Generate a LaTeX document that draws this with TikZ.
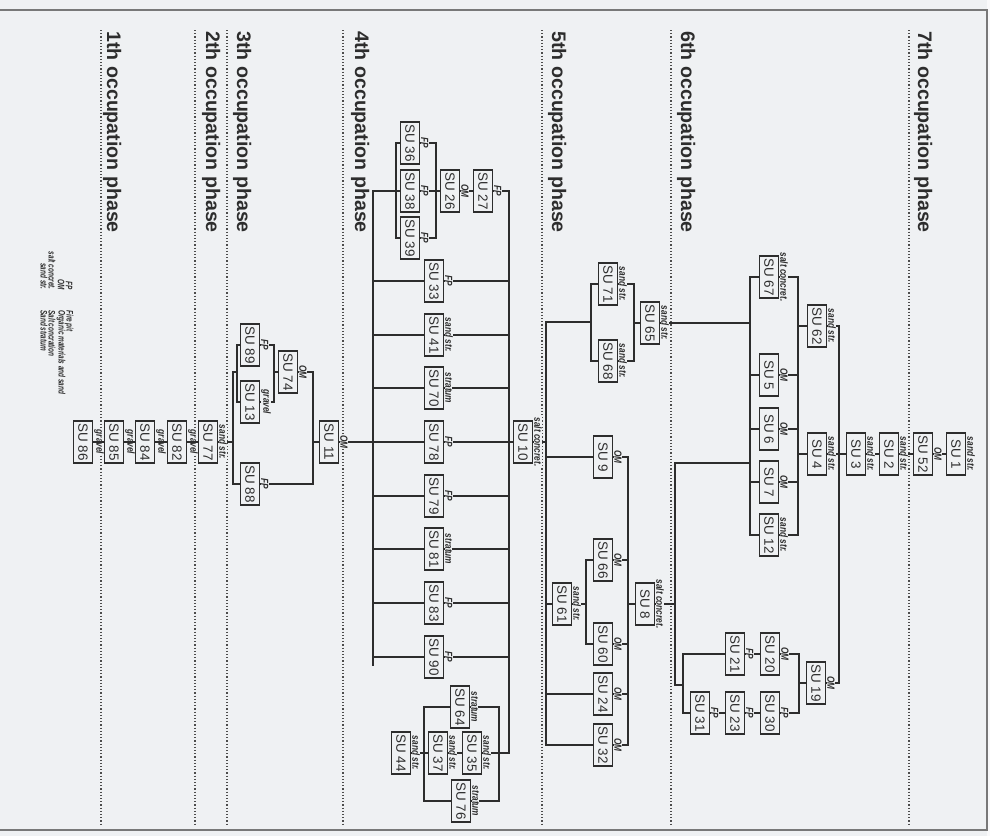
\documentclass[tikz,border=0pt]{standalone}
\usepackage{fontspec}
\setmainfont{Liberation Sans}
\newfontfamily\narrowfont[FakeStretch=0.8]{Liberation Sans}
\newfontfamily\legfont[FakeStretch=0.68]{Liberation Sans}
\definecolor{ink}{RGB}{45,45,45}
\definecolor{bgc}{RGB}{239,241,243}
\definecolor{framec}{RGB}{120,120,120}
\pgfdeclarelayer{back}
\pgfsetlayers{back,main}
\begin{document}
\begin{tikzpicture}[x=0.5pt,y=-0.5pt,
 box/.style={draw=ink,line width=0.9pt,fill=bgc,text=ink,rotate=-90,minimum width=21pt,minimum height=9.5pt,inner sep=0pt,font=\fontsize{6.7}{7}\selectfont},
 lab/.style={rotate=-90,anchor=south,inner sep=0.2pt,fill=bgc,text=ink,font=\narrowfont\bfseries\itshape\fontsize{5.2}{5.5}\selectfont},
 con/.style={draw=ink,line width=0.7pt},
 ttl/.style={rotate=-90,anchor=base west,inner sep=0pt,text=ink,font=\bfseries\fontsize{9.8}{11}\selectfont},
 sepline/.style={draw=ink!85,line width=0.6pt,densely dotted},
 leg/.style={rotate=-90,inner sep=0pt,text=ink,font=\legfont\bfseries\itshape\fontsize{4.7}{5}\selectfont}]
\useasboundingbox (0,0) rectangle (990,836);
\begin{pgfonlayer}{back}
\fill[bgc] (0,0) rectangle (990,836);
\fill[white!60!bgc] (987,0) rectangle (990,836);
\draw[framec,line width=0.8pt] (0,10) -- (987,10) -- (987,830) -- (0,830);
\foreach \xx in {101,195,227,343,542,671,909} \draw[sepline] (\xx,30) -- (\xx,824);
\end{pgfonlayer}

% phase titles
\node[ttl] (t7) at (918,31) {7th occupation phase};
\node[ttl] (t6) at (681,31) {6th occupation phase};
\node[ttl] (t5) at (552,31) {5th occupation phase};
\node[ttl] (t4) at (355,31) {4th occupation phase};
\node[ttl] (t3) at (237,31) {3th occupation phase};
\node[ttl] (t2) at (206,31) {2th occupation phase};
\node[ttl] (t1) at (107,31) {1th occupation phase};

% legend
\node[leg,anchor=east] (lg1) at (69,290) {FP};
\node[leg,anchor=west] (lg1t) at (69,310) {Fire pit};
\node[leg,anchor=east] (lg2) at (61,290) {OM};
\node[leg,anchor=west] (lg2t) at (61,310) {Organic materials and sand};
\node[leg,anchor=east] (lg3) at (52,290) {salt concret.};
\node[leg,anchor=west] (lg3t) at (52,310) {Salt concration};
\node[leg,anchor=east] (lg4) at (44,290) {sand str.};
\node[leg,anchor=west] (lg4t) at (44,310) {Sand stratum};

% boxes
\foreach \n/\p/\t in {su1/{956,454}/1, su52/{923,454}/52, su2/{889,454}/2, su3/{856,454}/3,
 su4/{817,454}/4, su62/{817,326}/62, su67/{769,277}/67, su5/{769,375}/5, su6/{769,429}/6,
 su7/{769,482}/7, su12/{769,535}/12, su19/{816,683}/19, su20/{770,654}/20, su30/{770,713}/30,
 su21/{735,654}/21, su23/{735,713}/23, su31/{700,713}/31,
 su65/{650,323}/65, su71/{608,284}/71, su68/{608,361}/68, su9/{603,457}/9, su8/{645,604}/8,
 su66/{603,560}/66, su60/{603,644}/60, su61/{562,604}/61, su24/{603,694}/24, su32/{603,745}/32,
 su10/{523,442}/10,
 su27/{483,191}/27, su26/{450,191}/26, su36/{410,143}/36, su38/{410,191}/38, su39/{410,238}/39,
 su33/{434,281}/33, su41/{434,335}/41, su70/{434,388}/70, su78/{434,442}/78, su79/{434,496}/79,
 su81/{434,549}/81, su83/{434,603}/83, su90/{434,657}/90, su64/{460,707}/64, su35/{472,753}/35,
 su76/{461,801}/76, su37/{438,753}/37, su44/{401,753}/44,
 su11/{329,442}/11, su74/{288,372}/74, su89/{250,345}/89, su13/{250,402}/13, su88/{250,484}/88,
 su77/{208,442}/77, su82/{177,442}/82, su84/{145,442}/84, su85/{114,442}/85, su86/{83,442}/86}
 \node[box] (\n) at (\p) {SU \t};

% bus coordinates
\coordinate (vA) at (839,0);
\coordinate (vB) at (798,0);
\coordinate (vC) at (750,0);
\coordinate (vD) at (799,0);
\coordinate (vE) at (683,0);
\coordinate (vF) at (675,0);
\coordinate (vG) at (634,0);
\coordinate (vH) at (591,0);
\coordinate (vI) at (546,0);
\coordinate (vJ) at (628,0);
\coordinate (vK) at (586,0);
\coordinate (vL) at (509,0);
\coordinate (vM) at (499,0);
\coordinate (vN) at (424,0);
\coordinate (vO) at (436,0);
\coordinate (vP) at (396,0);
\coordinate (vQ) at (373,0);
\coordinate (vR) at (313,0);
\coordinate (vS) at (274,0);
\coordinate (vT) at (233,0);
\coordinate (vU) at (237,0);
\coordinate (k1) at (750,463);
\coordinate (k2) at (675,685);
\coordinate (k3) at (591,322);
\coordinate (k5) at (373,666);
\coordinate (k6) at (237,372);

% 7th & 6th phase
\draw[con] (su4.north) -- (su3.south);
\draw[con] (su3.north) -- (su2.south);
\draw[con] (su2.north) -- (su52.south);
\draw[con] (su52.north) -- (su1.south);
\draw[con] (su62.north) -- (su62.north -| vA) -- (su19.north -| vA) -- (su19.north);
\draw[con] (su67.north) -- (su67.north -| vB) -- (su12.north -| vB) -- (su12.north);
\foreach \n in {su5,su6,su7} \draw[con] (\n.north) -- (\n.north -| vB);
\draw[con] (su62.south) -- (su62.south -| vB);
\draw[con] (su4.south) -- (su4.south -| vB);
\draw[con] (su67.south) -- (su67.south -| vC) -- (su12.south -| vC) -- (su12.south);
\foreach \n in {su5,su6,su7} \draw[con] (\n.south) -- (\n.south -| vC);
\draw[con] (su65.north) -- (su65.north -| vC);
\draw[con] (k1) -- (k1 -| vF) -- (k2) -- (k2 -| vE);
\draw[con] (su8.north) -- (su8.north -| vF);
\draw[con] (su21.south) -- (su21.south -| vE) -- (su31.south -| vE) -- (su31.south);
\draw[con] (su21.north) -- (su20.south);
\draw[con] (su31.north) -- (su23.south);
\draw[con] (su23.north) -- (su30.south);
\draw[con] (su20.north) -- (su20.north -| vD) -- (su30.north -| vD) -- (su30.north);
\draw[con] (su19.south) -- (su19.south -| vD);

% 5th phase
\draw[con] (su71.north) -- (su71.north -| vG) -- (su68.north -| vG) -- (su68.north);
\draw[con] (su65.south) -- (su65.south -| vG);
\draw[con] (su71.south) -- (su71.south -| vH) -- (su68.south -| vH) -- (su68.south);
\draw[con] (k3) -- (k3 -| vI) -- (su32.south -| vI) -- (su32.south);
\draw[con] (su10.north) -- (su10.north -| vI);
\foreach \n in {su9,su61,su24} \draw[con] (\n.south) -- (\n.south -| vI);
\draw[con] (su9.north) -- (su9.north -| vJ) -- (su32.north -| vJ) -- (su32.north);
\foreach \n in {su66,su60,su24} \draw[con] (\n.north) -- (\n.north -| vJ);
\draw[con] (su8.south) -- (su8.south -| vJ);
\draw[con] (su66.south) -- (su66.south -| vK) -- (su60.south -| vK) -- (su60.south);
\draw[con] (su61.north) -- (su61.north -| vK);

% 4th phase
\draw[con] (su27.north) -- (su27.north -| vL) -- (su35.north -| vL) -- (su35.north -| vM);
\draw[con] (su64.north) -- (su64.north -| vM) -- (su76.north -| vM) -- (su76.north);
\draw[con] (su35.north) -- (su35.north -| vM);
\draw[con] (su64.south) -- (su64.south -| vN) -- (su76.south -| vN) -- (su76.south);
\draw[con] (su37.south) -- (su37.south -| vN);
\draw[con] (su44.north) -- (su44.north -| vN);
\draw[con] (su37.north) -- (su35.south);
\draw[con] (su10.south) -- (su10.south -| vL);
\foreach \n in {su33,su41,su70,su78,su79,su81,su83,su90} {
  \draw[con] (\n.north) -- (\n.north -| vL);
  \draw[con] (\n.south) -- (\n.south -| vQ);
}
\draw[con] (su26.north) -- (su27.south);
\draw[con] (su36.north) -- (su36.north -| vO) -- (su39.north -| vO) -- (su39.north);
\draw[con] (su38.north) -- (su38.north -| vO);
\draw[con] (su26.south) -- (su26.south -| vO);
\draw[con] (su36.south) -- (su36.south -| vP) -- (su39.south -| vP) -- (su39.south);
\draw[con] (su38.south) -- (su38.south -| vP) -- (su38.south -| vQ) -- (k5);
\draw[con] (su11.north) -- (su11.north -| vQ);

% 3rd phase
\draw[con] (su74.north) -- (su74.north -| vR) -- (su88.north -| vR) -- (su88.north);
\draw[con] (su11.south) -- (su11.south -| vR);
\draw[con] (su89.north) -- (su89.north -| vS) -- (su13.north -| vS) -- (su13.north);
\draw[con] (su74.south) -- (su74.south -| vS);
\draw[con] (su89.south) -- (su89.south -| vU) -- (su13.south -| vU) -- (su13.south);
\draw[con] (k6) -- (k6 -| vT) -- (su88.south -| vT) -- (su88.south);
\draw[con] (su77.north) -- (su77.north -| vT);

% labels
\foreach \n/\t in {su1/sand str., su52/OM, su2/sand str., su3/sand str., su4/sand str.,
 su62/sand str., su67/salt concret., su5/OM, su6/OM, su7/OM, su12/sand str., su19/OM,
 su20/OM, su30/FP, su21/FP, su23/FP, su31/FP,
 su65/sand str., su71/sand str., su68/sand str., su9/OM, su8/salt concret., su66/OM,
 su60/OM, su61/sand str., su24/OM, su32/OM, su10/salt concret.,
 su27/FP, su26/OM, su36/FP, su38/FP, su39/FP, su33/FP, su41/sand str., su70/stratum,
 su78/FP, su79/FP, su81/stratum, su83/FP, su90/FP, su64/stratum, su35/sand str.,
 su76/stratum, su37/sand str., su44/sand str.,
 su11/OM, su74/OM, su89/FP, su13/gravel, su88/FP, su77/sand str., su82/gravel,
 su84/gravel, su85/gravel, su86/gravel}
 \node[lab] (l\n) at (\n.north) {\t};

% 2nd & 1st phase chain
\draw[con] (su82.north) -- (su77.south);
\draw[con] (su84.north) -- (su82.south);
\draw[con] (su85.north) -- (su84.south);
\draw[con] (su86.north) -- (su85.south);
\end{tikzpicture}
\end{document}
